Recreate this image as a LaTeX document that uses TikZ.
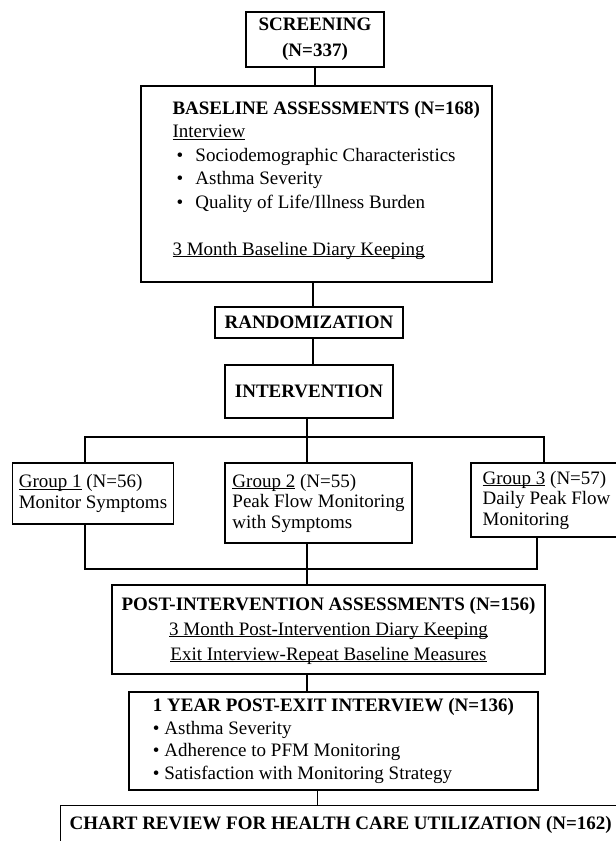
\documentclass[tikz,border=0pt]{standalone}
\usepackage{fontspec}
\setmainfont{Liberation Serif}
\newcommand{\uln}[1]{\underline{\smash{#1}}}

\begin{document}
\begin{tikzpicture}[
  x=1pt, y=-1pt,
  box/.style={rectangle, draw, line width=1.2pt, inner sep=5pt,
              font=\fontsize{19}{20.5}\selectfont},
  hd/.style={font=\fontsize{19}{20.5}\selectfont\bfseries},
  link/.style={line width=1.2pt}
]
  \useasboundingbox (0,0) rectangle (616,841);
  \clip (0,0) rectangle (616,841);

  \node[box, minimum width=138pt, minimum height=55pt, align=center,
        font=\fontsize{19}{26}\selectfont\bfseries] (scr) at (315,39.5) {SCREENING\\(N=337)};
  \node[box, minimum width=351pt, minimum height=196pt, inner sep=0pt] (base) at (316.5,184)
    {\hspace*{24pt}\parbox[c]{312pt}{\fontsize{19}{23.5}\selectfont
      \textbf{BASELINE ASSESSMENTS (N=168)}\\
      \uln{Interview}\\
      \hspace*{4pt}\makebox[19pt][l]{\textbullet}Sociodemographic Characteristics\\
      \hspace*{4pt}\makebox[19pt][l]{\textbullet}Asthma Severity\\
      \hspace*{4pt}\makebox[19pt][l]{\textbullet}Quality of Life/Illness Burden\\[23.5pt]
      \uln{3 Month Baseline Diary Keeping}\par\vspace{10pt}}};
  \node[box, hd, minimum width=188pt, minimum height=31pt] (rand) at (309,322.5) {RANDOMIZATION};
  \node[box, hd, minimum width=168pt, minimum height=53pt] (interv) at (309,391.5) {INTERVENTION};

  % the three arms
  \node[box, minimum width=161pt, minimum height=61pt, align=left] (grp1) at (93,493.5)
    {\uln{Group 1} (N=56)\\Monitor Symptoms};
  \node[box, minimum width=187pt, minimum height=80pt, align=left] (grp2) at (318.5,503)
    {\uln{Group 2} (N=55)\\Peak Flow Monitoring\\with Symptoms};
  \node[box, minimum width=151pt, minimum height=74pt, align=left] (grp3) at (546.5,500)
    {\uln{Group 3} (N=57)\\Daily Peak Flow\\Monitoring};

  \node[box, minimum width=433pt, minimum height=89pt, align=center,
        font=\fontsize{19}{25}\selectfont] (post) at (328.5,629.5)
    {\textbf{POST-INTERVENTION ASSESSMENTS (N=156)}\\
     \uln{3 Month Post-Intervention Diary Keeping}\\
     \uln{Exit Interview-Repeat Baseline Measures}};
  \node[box, minimum width=409pt, minimum height=98pt, align=left,
        font=\fontsize{19}{22.7}\selectfont] (year) at (333.5,741)
    {\textbf{1 YEAR POST-EXIT INTERVIEW (N=136)}\\
     \textbullet\ Asthma Severity\\
     \textbullet\ Adherence to PFM Monitoring\\
     \textbullet\ Satisfaction with Monitoring Strategy};
  \node[box, hd, anchor=north west, inner xsep=9pt, inner ysep=6pt,
        text height=18pt, text depth=30pt] (chart) at (60,805)
    {CHART REVIEW FOR HEALTH CARE UTILIZATION (N=162)};

  \coordinate (split) at (307,437);
  \coordinate (brL) at (85,437);
  \coordinate (brR) at (544,437);
  \coordinate (mrg) at (307,569);
  \coordinate (mrgL) at (85,569);
  \coordinate (mrgR) at (537,569);

  \draw[link] (scr.south) -- (scr.south |- base.north);
  \draw[link] ([xshift=4pt]rand.north |- base.south) -- ([xshift=4pt]rand.north);
  \draw[link] ([xshift=4pt]rand.south) -- ([xshift=4pt]interv.north);
  \draw[link] (interv.south -| split) -- (split |- grp2.north);
  \draw[link] (brL |- grp1.north) -- (brL) -- (brR) -- (brR |- grp3.north);
  \draw[link] (mrgL |- grp1.south) -- (mrgL) -- (mrgR) -- (mrgR |- grp3.south);
  \draw[link] (mrg |- grp2.south) -- (mrg |- post.north);
  \draw[link] (mrg |- post.south) -- (mrg |- year.north);
  \draw[link] ([xshift=-16pt]year.south) -- ([xshift=-16pt]year.south |- chart.north);
\end{tikzpicture}
\end{document}
